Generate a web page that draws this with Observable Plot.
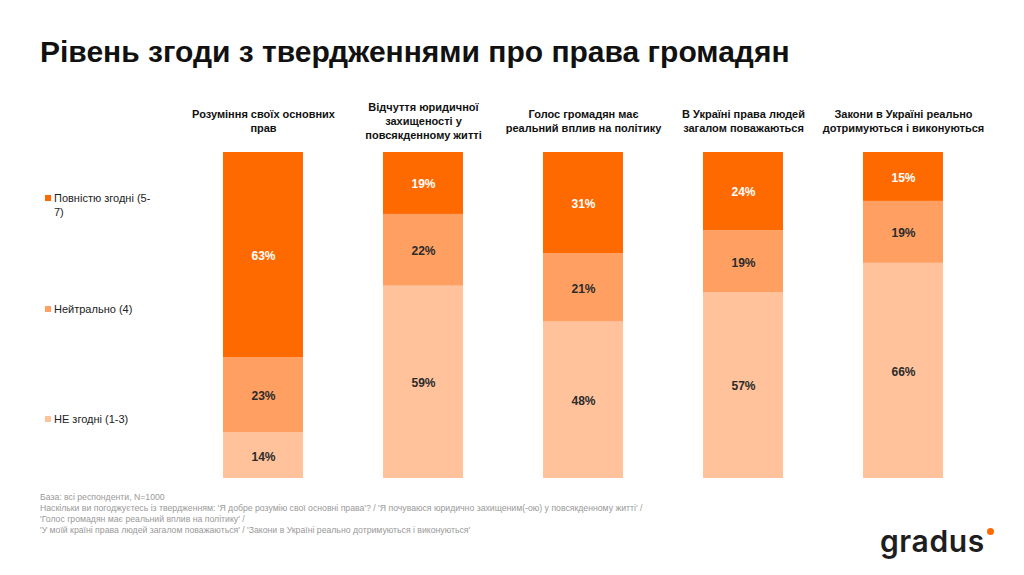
<!DOCTYPE html>
<html>
<head>
<meta charset="utf-8">
<script src="https://cdn.jsdelivr.net/npm/d3@7"></script>
<script src="https://cdn.jsdelivr.net/npm/@observablehq/plot@0.6"></script>
<style>
  html, body { margin: 0; padding: 0; background: #fff; }
  #page { position: relative; width: 1024px; height: 575px; overflow: hidden; font-family: "Liberation Sans", Arial, sans-serif; }
  #title { position: absolute; left: 40px; top: 37px; font-size: 30px; line-height: 30px; font-weight: bold; color: #111; white-space: nowrap; }
  #chart { position: absolute; left: 0; top: 90px; }
  .leg { position: absolute; left: 54px; font-size: 11px; line-height: 14px; color: #222; }
  .leg .sw { position: absolute; left: -9px; top: 4px; width: 6px; height: 6px; }
  #note { position: absolute; left: 40px; top: 492px; font-size: 8.7px; line-height: 11px; color: #999; white-space: nowrap; }
  #logo { position: absolute; left: 880px; top: 523px; font-family: Inter, "Liberation Sans", sans-serif; font-size: 30px; font-weight: 600; color: #1e1e1e; letter-spacing: 0.6px; line-height: 36px; }
  #dot { position: absolute; left: 987px; top: 528px; width: 7px; height: 7px; border-radius: 50%; background: #ff6a00; }
</style>
</head>
<body>
<div id="page">
  <div id="title">Рівень згоди з твердженнями про права громадян</div>
  <div id="chart"></div>
  <div id="legend"></div>
  <div id="note">База: всі респонденти, N=1000<br>Наскільки ви погоджуєтесь із твердженням: 'Я добре розумію свої основні права'? / 'Я почуваюся юридично захищеним(-ою) у повсякденному житті' /<br>'Голос громадян має реальний вплив на політику' /<br>'У моїй країні права людей загалом поважаються' / 'Закони в Україні реально дотримуються і виконуються'</div>
  <div id="logo">gradus</div>
  <div id="dot"></div>
</div>
<script>
// Categories (statements), with line breaks as in the headers
const categories = [
  "Розуміння своїх основних\nправ",
  "Відчуття юридичної\nзахищеності у\nповсякденному житті",
  "Голос громадян має\nреальний вплив на політику",
  "В Україні права людей\nзагалом поважаються",
  "Закони в Україні реально\nдотримуються і виконуються"
];
// Series, stacked from bottom to top
const series = ["НЕ згодні (1-3)", "Нейтрально (4)", "Повністю згодні (5-7)"];
const seriesColors = ["#ffc29b", "#ff9f62", "#ff6a00"];
const labelColors = ["#2b2b2b", "#2b2b2b", "#ffffff"];
const disagree = [14, 59, 48, 57, 66];
const neutral = [23, 22, 21, 19, 19];
const agree = [63, 19, 31, 24, 15];

const values = [disagree, neutral, agree];
const data = [];
series.forEach((s, si) => {
  categories.forEach((c, ci) => {
    data.push({category: c, series: s, value: values[si][ci], labelColor: labelColors[si]});
  });
});

const chart = Plot.plot({
  width: 1024,
  height: 400,
  marginTop: 62,
  marginBottom: 12,
  marginLeft: 143,
  marginRight: 1,
  x: {domain: categories, padding: 0.5, axis: null},
  y: {domain: [0, 100], axis: null},
  color: {domain: series, range: seriesColors},
  style: {fontFamily: "'Liberation Sans', Arial, sans-serif", background: "transparent"},
  marks: [
    Plot.barY(data, {x: "category", y: "value", fill: "series", order: series}),
    Plot.text(data, Plot.stackY({x: "category", y: "value", z: "series", order: series,
      text: d => d.value + "%", fill: "labelColor", fontSize: 12, fontWeight: "bold", dy: 1})),
    Plot.text(categories, {x: d => d, y: 100, dy: -32, text: d => d, lineAnchor: "middle",
      lineHeight: 1.27, fontSize: 11, fontWeight: "bold", fill: "#111"})
  ]
});
document.getElementById("chart").appendChild(chart);

// Legend
const legendTop = [191, 302, 412];
const legendText = ["Повністю згодні (5-<br>7)", "Нейтрально (4)", "НЕ згодні (1-3)"];
const legendColors = [seriesColors[2], seriesColors[1], seriesColors[0]];
const lg = document.getElementById("legend");
legendText.forEach((t, i) => {
  const el = document.createElement("div");
  el.className = "leg";
  el.style.top = legendTop[i] + "px";
  el.innerHTML = `<span class="sw" style="background:${legendColors[i]}"></span>${t}`;
  lg.appendChild(el);
});
</script>
</body>
</html>
